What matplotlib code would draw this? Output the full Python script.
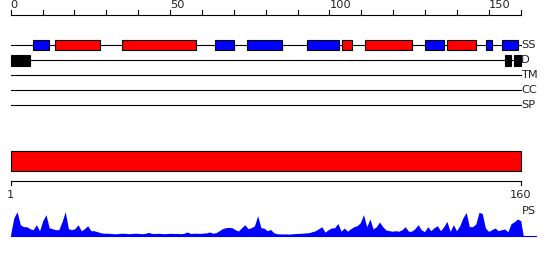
import matplotlib
matplotlib.use("Agg")
import matplotlib.pyplot as plt
from matplotlib.patches import Rectangle
import numpy as np

seq_len = 160
top_ticks = [0, 50, 100, 150]
track_labels = ["SS", "D", "TM", "CC", "SP"]

# secondary structure segments (start, end, type) in residue coords
ss_segments = [
    (7, 12, "E"), (14, 28, "H"), (35, 58, "H"), (64, 70, "E"), (74, 85, "E"),
    (93, 103, "E"), (104, 107, "H"), (111, 126, "H"), (130, 136, "E"),
    (137, 146, "H"), (149, 151, "E"), (154, 159, "E"),
]
disorder_segments = [(0, 6), (155, 157), (158, 160)]
domain_segments = [(0, 160)]
bottom_tick_labels = [1, 160]

ps_values = [
    2, 18, 24, 11, 9, 9, 7, 6, 11, 5,
    15, 21, 8, 7, 6, 6, 14, 24, 7, 6,
    7, 11, 5, 7, 10, 5, 5, 4, 3, 2.5,
    2.5, 2.3, 2, 2, 2.3, 2.5, 2.2, 2, 2.3, 2.5,
    2.2, 2, 2.4, 3.3, 2.3, 2.2, 2.4, 2.2, 2.0, 2.3,
    2.4, 2.2, 2.3, 2.0, 2.4, 3.7, 2.3, 2.4, 2.5, 2.3,
    2.6, 2.8, 3.7, 2.5, 3, 5, 7, 8, 8.3, 8,
    6, 4.7, 8, 11, 7, 8, 10, 20, 8, 7.5,
    5, 6.3, 3, 2, 1.8, 1.7, 1.8, 1.6, 2.0, 2.2,
    2.3, 2.5, 2.8, 3, 4, 5, 7, 9, 3.5, 6,
    7.7, 8, 12.3, 4.5, 7.7, 4.5, 7, 9, 10, 13,
    21, 9, 16.7, 6.7, 9, 13.7, 9, 5.7, 5, 4.5,
    5, 4.5, 6, 9, 4.5, 4.5, 7, 11, 6, 4,
    9, 5, 8, 10, 5, 9, 14.3, 4.3, 11, 5,
    10, 18, 23.3, 9, 9, 11.7, 23.3, 22.3, 7.7, 4.3,
    6, 7.7, 5, 6, 6.7, 4, 12, 14, 16.7, 15,
]

W, H = 550, 260
x0_px = 10.7
scale = 510.0 / seq_len

fig = plt.figure(figsize=(W / 100, H / 100), dpi=100)
ax = fig.add_axes([0, 0, 1, 1])
ax.set_xlim(-x0_px / scale, (W - x0_px) / scale)
ax.set_ylim(H, 0)
ax.axis("off")

lw = 0.8
fs = 8.2

# top ruler
ruler_y = 15
ax.plot([0, seq_len], [ruler_y, ruler_y], color="black", lw=lw)
for t in range(0, seq_len + 1, 10):
    ax.plot([t, t], [ruler_y - 5, ruler_y], color="black", lw=lw)
for t in top_ticks:
    ax.text(t, ruler_y - 4.5, str(t), ha="left", va="bottom", fontsize=fs, color="#222222")

# track lines
track_y = [45, 60.3, 75.3, 90.3, 105.3]
for y, lab in zip(track_y, track_labels):
    ax.plot([0, seq_len], [y, y], color="black", lw=lw)
    ax.text(seq_len + 0.1, y, lab, ha="left", va="center", fontsize=fs, color="#222222")

box_h = 10.7
for s, e, t in ss_segments:
    col = "#ff0000" if t == "H" else "#0000ff"
    ax.add_patch(Rectangle((s, track_y[0] - box_h / 2), e - s, box_h,
                           facecolor=col, edgecolor="black", lw=lw, zorder=3))
for s, e in disorder_segments:
    ax.add_patch(Rectangle((s, track_y[1] - box_h / 2), e - s, box_h,
                           facecolor="black", edgecolor="black", lw=lw, zorder=3))

# domain bar
for s, e in domain_segments:
    ax.add_patch(Rectangle((s, 150.7), e - s, 20, facecolor="#ff0000",
                           edgecolor="black", lw=lw, zorder=3))

# bottom ruler
b_y = 180.7
ax.plot([0, seq_len], [b_y, b_y], color="black", lw=lw)
for v in bottom_tick_labels:
    p = (v - 1) * seq_len / (bottom_tick_labels[-1] - 1)
    ax.plot([p, p], [b_y, b_y + 4.5], color="black", lw=lw)
    ax.text(p, 195.5, str(v), ha="center", va="center", fontsize=fs, color="#222222")

# PS profile
base = 235.7
ps = np.array(ps_values, dtype=float)
xs = np.arange(len(ps)) * seq_len / (len(ps) - 1)
xs = np.concatenate([[0], xs, [xs[-1] + 0.8]])
hs = np.concatenate([[0], ps, [0]])
ax.fill_between(xs, base, base - hs, color="#0000ff", lw=0, zorder=2)
ax.plot([0, (535.7 - x0_px) / scale], [base, base], color="#0000ff", lw=lw)
ax.text(seq_len + 0.3, 211, "PS", ha="left", va="center", fontsize=fs, color="#222222")

fig.savefig("out.png", dpi=100)
